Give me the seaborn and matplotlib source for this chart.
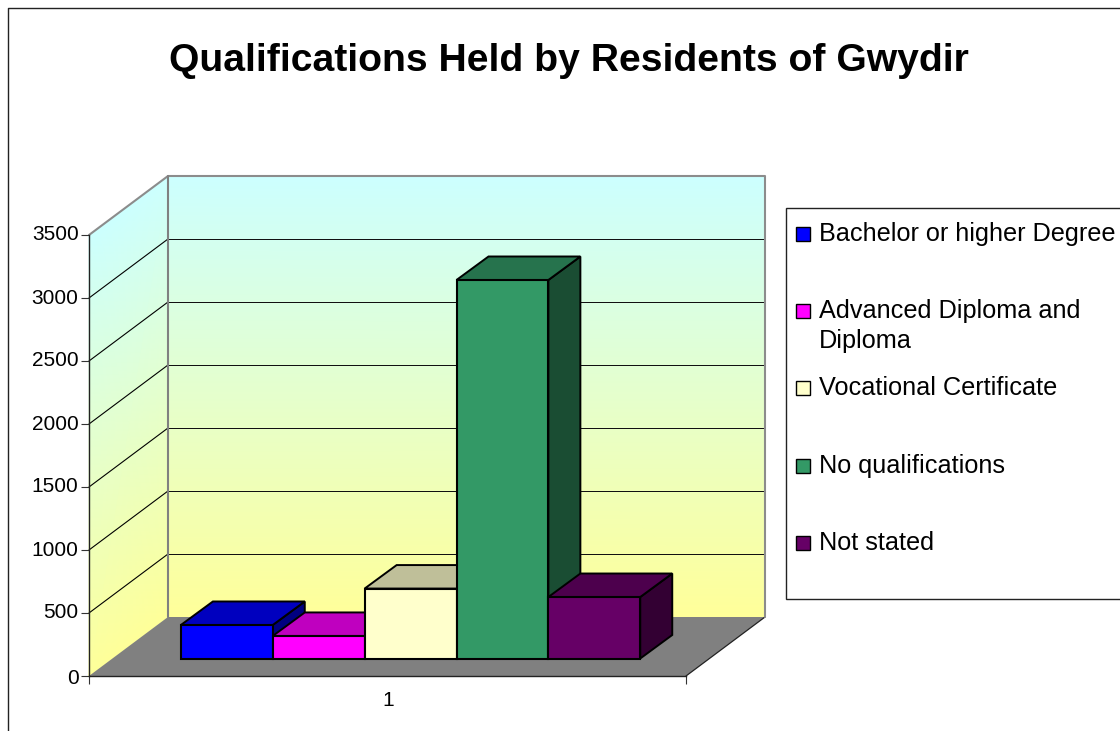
import matplotlib
matplotlib.use('Agg')
import matplotlib.pyplot as plt
import seaborn as sns
from matplotlib.colors import LinearSegmentedColormap, to_rgb
from matplotlib.patches import Polygon, Rectangle
from matplotlib.transforms import Affine2D

title = 'Qualifications Held by Residents of Gwydir'
qualifications = ['Bachelor or higher Degree', 'Advanced Diploma and Diploma',
                  'Vocational Certificate', 'No qualifications', 'Not stated']
counts = [266, 179, 555, 3004, 488]
bar_colors = ['#0000FF', '#FF00FF', '#FFFFCC', '#339966', '#660066']
legend_labels = ['Bachelor or higher Degree', 'Advanced Diploma and\nDiploma',
                 'Vocational Certificate', 'No qualifications', 'Not stated']
y_ticks = [0, 500, 1000, 1500, 2000, 2500, 3000, 3500]
category_label = '1'

# layout in pixels of the 1120x731 picture
W, H = 1120, 731
X0, X1 = 89, 686
Y0, Y1 = 676, 235
WALL_DX, WALL_DY = 79, 59
BAR_DX, BAR_DY = 23.6, 17.5
BAR_DEPTH_X, BAR_DEPTH_Y = 32, 23.5

sns.set_theme(style='white')
plt.rcParams['font.family'] = ['Liberation Sans', 'DejaVu Sans']

fig = plt.figure(figsize=(W / 100, H / 100), dpi=100, facecolor='white')

# background layer in picture pixels (y goes down)
bg = fig.add_axes([0, 0, 1, 1], zorder=0)
bg.set_xlim(0, W)
bg.set_ylim(H, 0)
bg.axis('off')

ax = fig.add_axes([X0 / W, 1 - Y0 / H, (X1 - X0) / W, (Y0 - Y1) / H], zorder=1)
ax.patch.set_alpha(0)


def value_y(v):
    return Y0 - v * (Y0 - Y1) / 3500


# walls with the cyan to yellow gradient
wall_cmap = LinearSegmentedColormap.from_list('wall', ['#FFFF99', '#CCFFFF'])
back_l, back_r = X0 + WALL_DX, X1 + WALL_DX
back_b, back_t = Y0 - WALL_DY, Y1 - WALL_DY
bg.pcolormesh([[back_l, back_r], [back_l, back_r]], [[back_b, back_b], [back_t, back_t]],
              [[0, 0], [1, 1]], cmap=wall_cmap, shading='gouraud', zorder=1)
bg.pcolormesh([[X0, back_l], [X0, back_l]], [[Y0, back_b], [Y1, back_t]],
              [[0, 0], [1, 1]], cmap=wall_cmap, shading='gouraud', zorder=1)

# floor
bg.add_patch(Polygon([(X0, Y0), (back_l, back_b), (back_r, back_b), (X1, Y0)],
                     facecolor='#808080', edgecolor='none', zorder=2))
bg.plot([X1, back_r], [Y0, back_b], color='#222222', lw=0.9, zorder=3)

# gridlines on both walls
for v in y_ticks[1:-1]:
    y = value_y(v)
    bg.plot([X0, back_l], [y, y - WALL_DY], color='black', lw=0.8, zorder=3)
    bg.plot([back_l, back_r], [y - WALL_DY, y - WALL_DY], color='#111111', lw=0.72, zorder=3)
y = value_y(y_ticks[-1])
bg.plot([X0, back_l, back_r, back_r], [y, back_t, back_t, back_b], color='#8C8C8C', lw=1.5, zorder=3)
bg.plot([back_l, back_l], [back_t, back_b], color='#808080', lw=1.5, zorder=3)

# outer chart frame and legend box
bg.plot([8, 8, W], [H, 8, 8], color='#222222', lw=1.0, zorder=3)
bg.add_patch(Rectangle((786, 208), 340, 391, facecolor='white', edgecolor='#222222', lw=1.0, zorder=3))

# bars
sns.barplot(x=qualifications, y=counts, hue=qualifications, palette=bar_colors, width=1,
            saturation=1, edgecolor='black', linewidth=1.5, legend=False, ax=ax)
ax.set_xlim(-1.2435, 5.255)
ax.set_ylim(0, 3500)
ax.set_xlabel('')
ax.set_ylabel('')

shift = ax.transData + Affine2D().translate(BAR_DX, BAR_DY)
for i, bar in enumerate(ax.patches):
    bar.set_transform(shift)
    bar.set_clip_on(False)
    bar.set_zorder(5 + i * 2)
    (x0, y0), (x1, y1) = shift.transform([(bar.get_x(), 0), (bar.get_x() + bar.get_width(), bar.get_height())])
    rgb = to_rgb(bar_colors[i])
    top = [(x0, y1), (x1, y1), (x1 + BAR_DEPTH_X, y1 + BAR_DEPTH_Y), (x0 + BAR_DEPTH_X, y1 + BAR_DEPTH_Y)]
    side = [(x1, y0), (x1 + BAR_DEPTH_X, y0 + BAR_DEPTH_Y), (x1 + BAR_DEPTH_X, y1 + BAR_DEPTH_Y), (x1, y1)]
    for face, shade in ((side, 0.5), (top, 0.75)):
        ax.add_patch(Polygon(face, closed=True, transform=None, clip_on=False,
                             facecolor=[c * shade for c in rgb], edgecolor='black',
                             lw=1.4, zorder=4 + i * 2))

# axes
for s in ['top', 'right']:
    ax.spines[s].set_visible(False)
for s in ['left', 'bottom']:
    ax.spines[s].set_color('#222222')
    ax.spines[s].set_linewidth(1.0)
ax.set_yticks(y_ticks)
ax.set_xticks([-1.2435, 5.255])
ax.set_xticklabels([])
ax.tick_params(axis='both', which='major', length=5.5, width=0.8, color='#333333', left=True, bottom=True)
ax.tick_params(axis='y', labelsize=15, labelcolor='black', pad=2)
# labels above zero sit a little over their ticks
for lab in ax.get_yticklabels()[1:]:
    lab.set_transform(lab.get_transform() + Affine2D().translate(0, 2))
bg.text((X0 + X1) / 2 + 0.5, 700, category_label, fontsize=15, color='black', ha='center', va='center', zorder=3)

# title
bg.text(568.5, 61, title, fontsize=28.2, fontweight='bold', color='black', ha='center', va='center', zorder=3)

# legend entries
key_y = [233.5, 311, 388, 465.5, 543]
for label, color, y in zip(legend_labels, bar_colors, key_y):
    bg.add_patch(Rectangle((795.5, y - 7), 14.5, 14, facecolor=color, edgecolor='black', lw=1.0, zorder=4))
    bg.text(819, y - 12, label, fontsize=18.2, color='black', ha='left', va='top', linespacing=1.32, zorder=4)

fig.savefig('out.png', dpi=100)
